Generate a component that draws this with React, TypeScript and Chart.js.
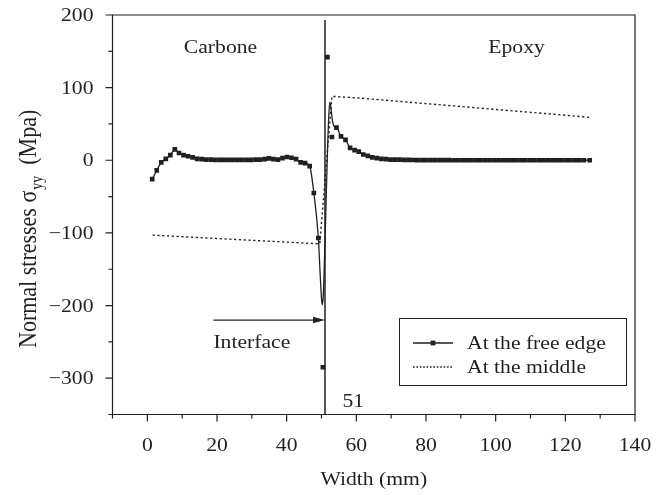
import React, { useEffect, useRef } from 'react';
import { Chart, registerables } from 'chart.js';

Chart.register(...registerables);

const FONT = '"Liberation Serif", "Times New Roman", serif';
const INK = '#231f20';
const SX = 1.17; // horizontal stretch of the lettering

// Normal stress at the free edge, sampled across the width (mm, MPa)
const edgeX = [
  1.4, 2.7, 4.0, 5.3, 6.6, 7.9, 9.1, 10.4, 11.7, 13.0, 14.3, 15.6, 16.9, 18.2, 19.5, 20.8,
  22.0, 23.3, 24.6, 25.9, 27.2, 28.5, 29.8, 31.1, 32.4, 33.7, 34.9, 36.2, 37.5, 38.8, 40.1,
  41.4, 42.7, 44.0, 45.3, 46.6, 47.8, 49.1, 50.4, 51.7, 53.0, 54.3, 55.6, 56.9, 58.2, 59.5,
  60.7, 62.0, 63.3, 64.6, 65.9, 67.2, 68.5, 69.8, 71.1, 72.4, 73.7, 75.0, 76.2, 77.5, 78.8,
  80.1, 81.4, 82.7, 84.0, 85.3, 86.6, 87.9, 89.2, 90.5, 91.7, 93.0, 94.3, 95.6, 96.9, 98.2,
  99.5, 100.8, 102.1, 103.4, 104.6, 105.9, 107.2, 108.5, 109.8, 111.1, 112.4, 113.7, 115.0,
  116.3, 117.5, 118.8, 120.1, 121.4, 122.7, 124.0, 125.3, 127.0,
];
const edgeY = [
  -26, -14, -3, 2, 7, 15, 10, 7, 5.5, 4, 2, 1.5, 1, 1, 0.5, 0.5,
  0.5, 0.5, 0.5, 0.5, 0.5, 0.5, 0.5, 1, 1, 1.5, 2.5, 1.5, 1, 3, 4.5,
  3.5, 1.5, -3, -4, -8, -45, -107, -285, 142, 32, 45, 33, 28, 17, 14,
  12, 8, 6, 4, 3, 2, 1.5, 1, 1, 0.8, 0.5, 0.5, 0.4, 0.3, 0.3,
  0.2, 0.2, 0.2, 0.1, 0.1, 0.1, 0, 0, 0, 0, 0, 0, 0, 0, 0,
  0, 0, 0, 0, 0, 0, 0, 0, 0, 0, 0, 0, 0,
  0, 0, 0, 0, 0, 0, 0, 0, 0,
];

// Smoothed free-edge curve across the interface, where it leaves the samples
const spikeX = [49.6, 50.0, 50.2, 50.5, 50.9, 51.3, 51.7, 52.1, 52.4, 52.7, 53.2, 53.7];
const spikeY = [-155, -190, -199, -186, -130, -60, 10, 62, 80, 72, 53, 46];
const spikeFrom = 49.5;
const spikeTo = 54.0;

// Normal stress at mid-thickness
const middleX = [1.5, 49.5, 53, 60, 70, 80, 90, 100, 110, 120, 127];
const middleY = [-103, -115, 88, 86, 82, 78, 74, 70, 66, 62, 59];

const interfaceX = 51;
const interfaceTop = 193;

const xMin = -10;
const xMax = 140;
const yMin = -350;
const yMax = 200;
const xTicks = [0, 20, 40, 60, 80, 100, 120, 140];
const xMinorTicks = [-10, 10, 30, 50, 70, 90, 110, 130];
const yTicks = [-300, -200, -100, 0, 100, 200];
const yMinorTicks = [-350, -250, -150, -50, 50, 150];

const fmt = (v: number) => (v < 0 ? '\u2212' + Math.abs(v) : String(v));

function text(
  ctx: CanvasRenderingContext2D,
  s: string,
  x: number,
  y: number,
  size: number,
  align: CanvasTextAlign,
) {
  ctx.save();
  ctx.translate(x, y);
  ctx.scale(SX, 1);
  ctx.font = `${size}px ${FONT}`;
  ctx.textAlign = align;
  ctx.textBaseline = 'alphabetic';
  ctx.fillStyle = INK;
  ctx.fillText(s, 0, 0);
  ctx.restore();
}

const decor = {
  id: 'decor',
  afterDraw(chart: any) {
    const { ctx, chartArea: a, scales } = chart;
    const xs = scales.x;
    const ys = scales.y;
    ctx.save();
    ctx.strokeStyle = INK;
    ctx.lineWidth = 1.2;

    // frame
    ctx.beginPath();
    ctx.rect(a.left, a.top, a.right - a.left, a.bottom - a.top);
    ctx.stroke();

    // ticks
    ctx.beginPath();
    xTicks.forEach((v) => {
      const px = xs.getPixelForValue(v);
      ctx.moveTo(px, a.bottom);
      ctx.lineTo(px, a.bottom + 7);
    });
    xMinorTicks.forEach((v) => {
      const px = xs.getPixelForValue(v);
      ctx.moveTo(px, a.bottom);
      ctx.lineTo(px, a.bottom + 4);
    });
    yTicks.forEach((v) => {
      const py = ys.getPixelForValue(v);
      ctx.moveTo(a.left, py);
      ctx.lineTo(a.left - 7, py);
    });
    yMinorTicks.forEach((v) => {
      const py = ys.getPixelForValue(v);
      ctx.moveTo(a.left, py);
      ctx.lineTo(a.left - 4, py);
    });
    ctx.stroke();

    // tick labels
    xTicks.forEach((v) => text(ctx, fmt(v), xs.getPixelForValue(v), 451, 18.5, 'center'));
    yTicks.forEach((v) => text(ctx, fmt(v), 93.5, ys.getPixelForValue(v) + 6, 18.5, 'right'));

    // axis titles
    text(ctx, 'Width (mm)', (a.left + a.right) / 2, 485, 18.5, 'center');
    ctx.save();
    ctx.translate(36, 348);
    ctx.scale(SX, 1);
    ctx.rotate(-Math.PI / 2);
    ctx.fillStyle = INK;
    ctx.textBaseline = 'alphabetic';
    ctx.textAlign = 'left';
    ctx.font = `22px ${FONT}`;
    const main = 'Normal stresses \u03c3';
    ctx.fillText(main, 0, 0);
    let u = ctx.measureText(main).width;
    ctx.font = `14px ${FONT}`;
    ctx.fillText('yy', u + 1, 5);
    u += ctx.measureText('yy').width + 12;
    ctx.font = `22px ${FONT}`;
    ctx.fillText('(Mpa)', u, 0);
    ctx.restore();

    // region labels
    text(ctx, 'Carbone', xs.getPixelForValue(21), ys.getPixelForValue(147), 18.5, 'center');
    text(ctx, 'Epoxy', xs.getPixelForValue(106), ys.getPixelForValue(147), 18.5, 'center');
    text(ctx, 'Interface', xs.getPixelForValue(30), ys.getPixelForValue(-258), 18.5, 'center');
    text(ctx, String(interfaceX), xs.getPixelForValue(56), ys.getPixelForValue(-340), 18.5, 'left');

    // arrow pointing to the interface
    const ay = ys.getPixelForValue(-220);
    const ax0 = xs.getPixelForValue(19);
    const ax1 = xs.getPixelForValue(interfaceX);
    ctx.beginPath();
    ctx.moveTo(ax0, ay);
    ctx.lineTo(ax1 - 10, ay);
    ctx.stroke();
    ctx.beginPath();
    ctx.moveTo(ax1, ay);
    ctx.lineTo(ax1 - 12, ay - 3.2);
    ctx.lineTo(ax1 - 12, ay + 3.2);
    ctx.closePath();
    ctx.fillStyle = INK;
    ctx.fill();

    // legend
    const lx = 399.5;
    const ly = 318.5;
    ctx.lineWidth = 1;
    ctx.strokeRect(lx, ly, 227, 67);
    const r1 = 343;
    const r2 = 367;
    ctx.lineWidth = 1.3;
    ctx.beginPath();
    ctx.moveTo(413, r1);
    ctx.lineTo(453, r1);
    ctx.stroke();
    ctx.fillRect(433 - 2.4, r1 - 2.4, 4.8, 4.8);
    ctx.setLineDash([1.6, 1.8]);
    ctx.beginPath();
    ctx.moveTo(413, r2);
    ctx.lineTo(453, r2);
    ctx.stroke();
    ctx.setLineDash([]);
    text(ctx, 'At the free edge', 467, r1 + 6, 18.5, 'left');
    text(ctx, 'At the middle', 467, r2 + 6, 18.5, 'left');

    ctx.restore();
  },
};

export default function App() {
  const ref = useRef<HTMLCanvasElement>(null);

  useEffect(() => {
    const canvas = ref.current;
    if (!canvas) return;

    const edgePts = edgeX.map((x, i) => ({ x, y: edgeY[i] }));
    const curvePts = [
      ...edgePts.filter((p) => p.x < spikeFrom || p.x > spikeTo),
      ...spikeX.map((x, i) => ({ x, y: spikeY[i] })),
    ].sort((p, q) => p.x - q.x);
    const middlePts = middleX.map((x, i) => ({ x, y: middleY[i] }));

    const chart = new Chart(canvas, {
      type: 'scatter',
      data: {
        datasets: [
          {
            label: 'At the free edge (curve)',
            data: curvePts,
            showLine: true,
            borderColor: INK,
            borderWidth: 1.3,
            pointRadius: 0,
            cubicInterpolationMode: 'monotone',
          },
          {
            label: 'At the free edge',
            data: edgePts,
            showLine: false,
            pointStyle: 'rect',
            pointRadius: 3.3,
            backgroundColor: INK,
            borderWidth: 0,
          },
          {
            label: 'At the middle',
            data: middlePts,
            showLine: true,
            borderColor: INK,
            borderWidth: 1.4,
            borderDash: [2.2, 2.6],
            pointRadius: 0,
          },
          {
            label: 'Interface',
            data: [
              { x: interfaceX, y: interfaceTop },
              { x: interfaceX, y: yMin },
            ],
            showLine: true,
            borderColor: INK,
            borderWidth: 1.5,
            pointRadius: 0,
          },
        ],
      },
      options: {
        responsive: false,
        animation: false,
        devicePixelRatio: 1,
        layout: { padding: { left: 0, right: 30, top: 15, bottom: 0 } },
        plugins: { legend: { display: false }, tooltip: { enabled: false } },
        scales: {
          x: {
            type: 'linear',
            min: xMin,
            max: xMax,
            grid: { display: false },
            border: { display: false },
            ticks: { display: false },
            afterFit: (s: any) => {
              s.height = 80.5;
            },
          },
          y: {
            type: 'linear',
            min: yMin,
            max: yMax,
            grid: { display: false },
            border: { display: false },
            ticks: { display: false },
            afterFit: (s: any) => {
              s.width = 112.5;
            },
          },
        },
      },
      plugins: [decor],
    });

    return () => chart.destroy();
  }, []);

  return (
    <div style={{ position: 'fixed', left: 0, top: 0, width: 665, height: 495, background: '#fff' }}>
      <canvas ref={ref} width={665} height={495} style={{ width: 665, height: 495, display: 'block' }} />
    </div>
  );
}
